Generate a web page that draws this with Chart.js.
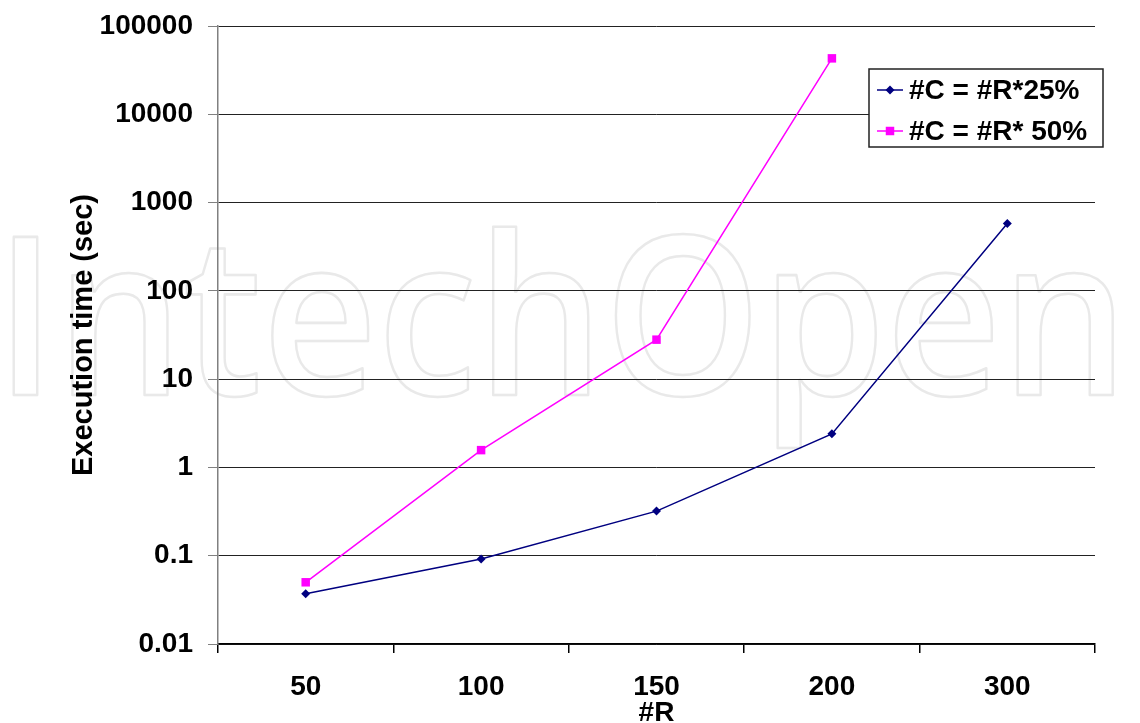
<!DOCTYPE html>
<html>
<head>
<meta charset="utf-8">
<script src="https://cdn.jsdelivr.net/npm/chart.js@4"></script>
<style>
  html, body { margin: 0; padding: 0; background: #fff; }
  #wrap { width: 1140px; height: 723px; position: relative; }
</style>
</head>
<body>
<div id="wrap"><canvas id="c" width="1140" height="723"></canvas></div>
<script>
// Problem size (#R) and measured execution times in seconds
const categories = ['50', '100', '150', '200', '300'];
const series25 = [0.037, 0.092, 0.32, 2.4, 580];
const series50 = [0.05, 1.57, 28, 43000, null];
const seriesNames = ['#C = #R*25%', '#C = #R* 50%'];
const yTickValues = [0.01, 0.1, 1, 10, 100, 1000, 10000, 100000];
const watermarkText = 'IntechOpen';

const FONT = '"Liberation Sans", Arial, Helvetica, sans-serif';
Chart.defaults.font.family = FONT;
Chart.defaults.color = '#000';

// Faint outlined publisher mark behind the plot
const watermark = {
  id: 'watermark',
  beforeDraw(chart) {
    const ctx = chart.ctx;
    ctx.save();
    ctx.fillStyle = '#fff';
    ctx.fillRect(0, 0, chart.width, chart.height);
    ctx.font = '600 221px "Open Sans", sans-serif';
    ctx.textBaseline = 'alphabetic';
    const head = ctx.measureText('Intech').width;
    const lsb = -ctx.measureText('I').actualBoundingBoxLeft;
    const sx = 609 / head;
    ctx.translate(13 - lsb * sx, 395);
    ctx.scale(sx, 1);
    ctx.lineJoin = 'round';
    ctx.strokeStyle = '#e9e9e9';
    ctx.lineWidth = 2.6;
    ctx.strokeText(watermarkText, 0, 0);
    ctx.restore();
  }
};

// Boxed legend placed inside the upper right of the plot
const boxLegend = {
  id: 'boxLegend',
  afterDraw(chart) {
    const ctx = chart.ctx;
    const bx = 869, by = 69, bw = 234, bh = 78;
    ctx.save();
    ctx.fillStyle = '#fff';
    ctx.fillRect(bx, by, bw, bh);
    ctx.strokeStyle = '#222';
    ctx.lineWidth = 1.5;
    ctx.strokeRect(bx, by, bw, bh);
    chart.data.datasets.forEach((ds, i) => {
      const y = by + 21 + i * 41;
      ctx.strokeStyle = ds.borderColor;
      ctx.lineWidth = ds.borderWidth;
      ctx.beginPath();
      ctx.moveTo(877, y);
      ctx.lineTo(903, y);
      ctx.stroke();
      ctx.fillStyle = ds.backgroundColor;
      const r = ds.pointRadius;
      ctx.beginPath();
      if (ds.pointStyle === 'rectRot') {
        ctx.moveTo(890 - r, y); ctx.lineTo(890, y - r);
        ctx.lineTo(890 + r, y); ctx.lineTo(890, y + r);
        ctx.closePath();
      } else {
        const s = r * Math.SQRT1_2;
        ctx.rect(890 - s, y - s, 2 * s, 2 * s);
      }
      ctx.fill();
      ctx.fillStyle = '#000';
      ctx.font = 'bold 28px ' + FONT;
      ctx.textBaseline = 'middle';
      ctx.textAlign = 'left';
      ctx.fillText(ds.label, 909, y + 1);
    });
    ctx.restore();
  }
};

new Chart(document.getElementById('c'), {
  type: 'line',
  data: {
    labels: categories,
    datasets: [
      {
        label: seriesNames[0],
        data: series25,
        borderColor: '#000080',
        backgroundColor: '#000080',
        borderWidth: 1.5,
        pointStyle: 'rectRot',
        pointRadius: 4.5,
        pointBorderWidth: 0,
        tension: 0
      },
      {
        label: seriesNames[1],
        data: series50,
        borderColor: '#ff00ff',
        backgroundColor: '#ff00ff',
        borderWidth: 1.5,
        pointStyle: 'rect',
        pointRadius: 6,
        pointBorderWidth: 0,
        tension: 0,
        spanGaps: false
      }
    ]
  },
  options: {
    responsive: false,
    animation: false,
    layout: { padding: { top: 26, right: 45, left: 0, bottom: 0 } },
    plugins: { legend: { display: false }, tooltip: { enabled: false } },
    scales: {
      x: {
        type: 'category',
        offset: true,
        grid: {
          offset: true,
          drawOnChartArea: false,
          drawTicks: true,
          tickLength: 9,
          tickColor: '#000',
          lineWidth: 1.5
        },
        border: { display: true, color: '#000', width: 1.5 },
        ticks: { font: { size: 28, weight: 'bold' }, color: '#000', padding: 17, maxRotation: 0 },
        title: {
          display: true,
          text: '#R',
          font: { size: 28, weight: 'bold', lineHeight: 0.7 },
          color: '#000',
          padding: 0
        },
        afterFit(s) { s.height = 79; s.paddingLeft = 0; s.paddingRight = 0; }
      },
      y: {
        type: 'logarithmic',
        min: 0.01,
        max: 100000,
        afterBuildTicks(s) { s.ticks = yTickValues.map(v => ({ value: v })); },
        grid: {
          color: '#222',
          lineWidth: 1,
          tickLength: 10,
          tickColor: '#808080'
        },
        border: { display: true, color: '#808080', width: 1.5 },
        ticks: {
          font: { size: 28, weight: 'bold' },
          color: '#000',
          padding: 15,
          callback: v => String(v)
        },
        title: {
          display: true,
          text: 'Execution time (sec)',
          font: { size: 29, weight: 'bold' },
          color: '#000',
          padding: { top: 67, bottom: 0 }
        },
        afterFit(s) { s.width = 218; s.paddingTop = 0; s.paddingBottom = 0; }
      }
    }
  },
  plugins: [watermark, boxLegend]
});
</script>
</body>
</html>
